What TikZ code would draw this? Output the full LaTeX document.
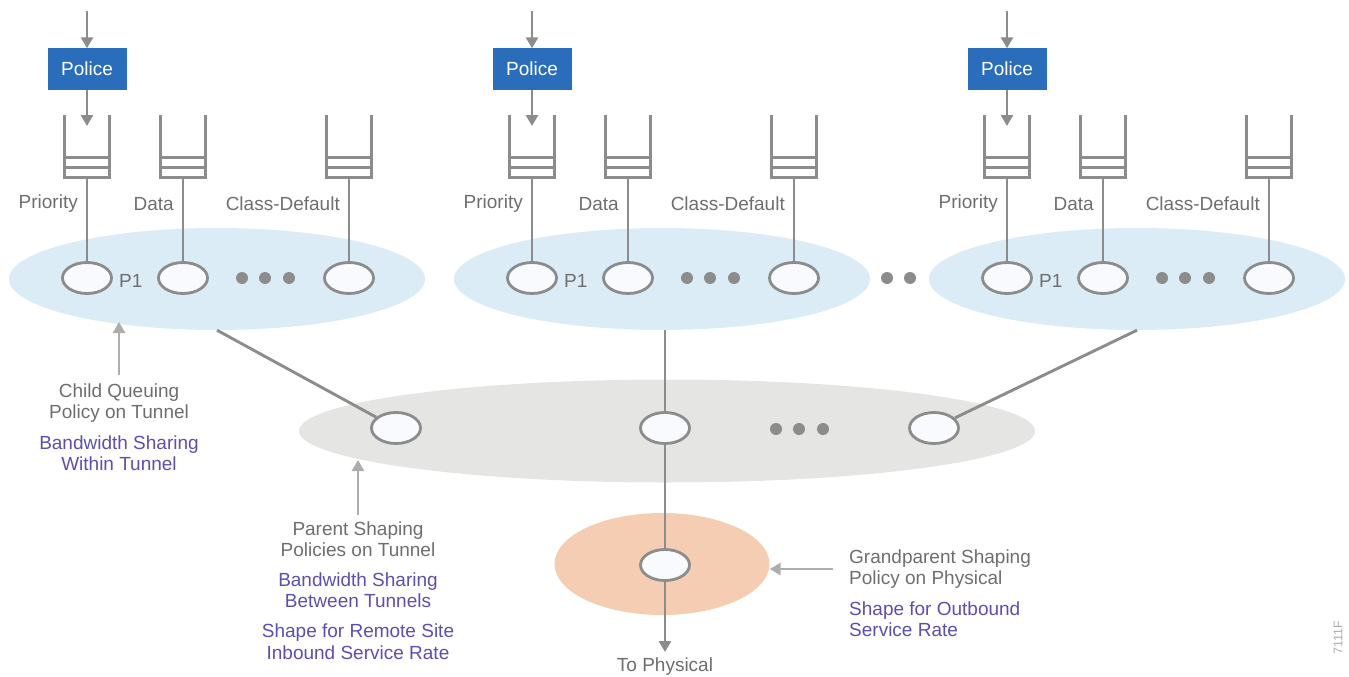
\documentclass[tikz,border=0pt]{standalone}
\usepackage{fontspec}
\setmainfont{Liberation Sans}
\usetikzlibrary{shapes.geometric,arrows.meta}
\definecolor{policeblue}{HTML}{2A6EBB}
\definecolor{linegray}{HTML}{8C8C8C}
\definecolor{txtgray}{HTML}{6E6E6E}
\definecolor{annogray}{HTML}{ADADAD}
\definecolor{purp}{HTML}{5B50AA}
\definecolor{tunnelblue}{HTML}{DBECF6}
\definecolor{parentgray}{HTML}{E5E5E4}
\definecolor{gpeach}{HTML}{F5CDB3}
\definecolor{nodefill}{HTML}{F8FAFD}
\begin{document}
\begin{tikzpicture}[x=1pt,y=-1pt,
  font=\fontsize{19}{21.5}\selectfont,
  policebox/.style={rectangle, fill=policeblue, text=white, minimum width=79, minimum height=41, inner sep=0},
  queuebox/.style={rectangle, minimum width=44, minimum height=62, inner sep=0},
  sched/.style={ellipse, draw=linegray, line width=2.8pt, fill=nodefill, minimum width=49, minimum height=31, inner sep=0},
  tunnel/.style={ellipse, fill=tunnelblue, minimum width=416, minimum height=102, inner sep=0},
  flow/.style={draw=linegray, line width=2.9pt},
  flowarrow/.style={flow, -{Triangle[length=11pt,width=12pt]}},
  anno/.style={draw=annogray, line width=2.7pt, -{Triangle[length=11pt,width=12pt]}},
  dot/.style={circle, fill=linegray, minimum size=12, inner sep=0},
  lbl/.style={text=txtgray, inner sep=0},
  note/.style={text=purp, inner sep=0},
]
\useasboundingbox (0,0) rectangle (1349,677);

% tunnel policies (child queuing)
\foreach \g/\dx in {1/0, 2/445, 3/920} {
  \node[tunnel] (t\g) at (217+\dx,279) {};
}
% parent shaping ellipse and grandparent ellipse
\node[ellipse, fill=parentgray, minimum width=736, minimum height=103, inner sep=0] (par) at (667,431) {};
\node[ellipse, fill=gpeach, minimum width=215, minimum height=102, inner sep=0] (gp) at (662,564) {};

\foreach \g/\dx in {1/0, 2/445, 3/920} {
  \coordinate (in\g) at (87+\dx,11);
  \coordinate (qin\g) at (87+\dx,126);
  \node[policebox] (p\g) at (87+\dx,69) {Police};
  \node[queuebox] (qa\g) at (87+\dx,146) {};
  \node[queuebox] (qb\g) at (183+\dx,146) {};
  \node[queuebox] (qc\g) at (349+\dx,146) {};
  \node[sched] (sa\g) at (87+\dx,278) {};
  \node[sched] (sb\g) at (183+\dx,278) {};
  \node[sched] (sc\g) at (349+\dx,278) {};
  \node[lbl, anchor=east] (la\g) at (78+\dx,204) {Priority};
  \node[lbl, anchor=east] (lb\g) at (174+\dx,204) {Data};
  \node[lbl, anchor=east] (lc\g) at (340+\dx,204) {Class-Default};
  \node[lbl, anchor=west] (lp\g) at (119+\dx,281) {P1};
  \node[dot] (da\g) at (242+\dx,278) {};
  \node[dot] (db\g) at (265+\dx,278) {};
  \node[dot] (dc\g) at (289+\dx,278) {};
  % queues: open-top buffers with two stacked packets
  \foreach \q in {qa,qb,qc} {
    \draw[flow] (\q\g.north west) |- (\q\g.south east) -- (\q\g.north east);
    \draw[flow] ([yshift=10pt]\q\g.south west) -- ([yshift=10pt]\q\g.south east);
    \draw[flow] ([yshift=20pt]\q\g.south west) -- ([yshift=20pt]\q\g.south east);
  }
  \draw[flowarrow] (in\g) -- (p\g.north);
  \draw[flowarrow] (p\g.south) -- (qin\g);
  \draw[flow] (qa\g.south) -- (sa\g);
  \draw[flow] (qb\g.south) -- (sb\g);
  \draw[flow] (qc\g.south) -- (sc\g);
}
\node[dot] (dx1) at (887,278) {};
\node[dot] (dx2) at (910,278) {};

% parent shaping schedulers
\node[sched] (m1) at (396,428) {};
\node[sched] (m2) at (665,428) {};
\node[sched] (m3) at (934,428) {};
\node[dot] (dm1) at (776,429) {};
\node[dot] (dm2) at (799,429) {};
\node[dot] (dm3) at (823,429) {};
\draw[flow] (t1.south) -- (m1);
\draw[flow] (m2 |- t2.south) -- (m2);
\draw[flow] (t3.south) -- (m3);

% grandparent scheduler and output
\node[sched] (g) at (665,565) {};
\coordinate (out) at (665,652);
\draw[flow] (m2) -- (g);
\draw[flowarrow] (g) -- (out);
\node[lbl] (outlbl) at (665,667) {To Physical};

% annotations
\node[lbl, align=center] (childtxt) at (119,403) {Child Queuing\\Policy on Tunnel};
\node[note, align=center] (childnote) at (119,453) {Bandwidth Sharing\\Within Tunnel};
\coordinate (childtip) at (119,322);
\draw[anno] ([yshift=8pt]childtxt.north) -- (childtip);

\node[lbl, align=center] (partxt) at (358,539) {Parent Shaping\\Policies on Tunnel};
\node[note, align=center] (parnote1) at (358,590) {Bandwidth Sharing\\Between Tunnels};
\node[note, align=center] (parnote2) at (358,641.5) {Shape for Remote Site\\Inbound Service Rate};
\coordinate (partip) at (358,460);
\draw[anno] ([yshift=6pt]partxt.north) -- (partip);

\node[lbl, align=left, anchor=west, inner xsep=16pt] (gptxt) at (833,569) {Grandparent Shaping\\Policy on Physical};
\node[note, align=left, anchor=west] (gpnote) at (849,619) {Shape for Outbound\\Service Rate};
\draw[anno] (gptxt.west) -- (gptxt.west -| gp.east);

\node[text=annogray, rotate=90, inner sep=0, font=\fontsize{12.5}{14}\selectfont] (figid) at (1338,638) {7111F};
\end{tikzpicture}
\end{document}
